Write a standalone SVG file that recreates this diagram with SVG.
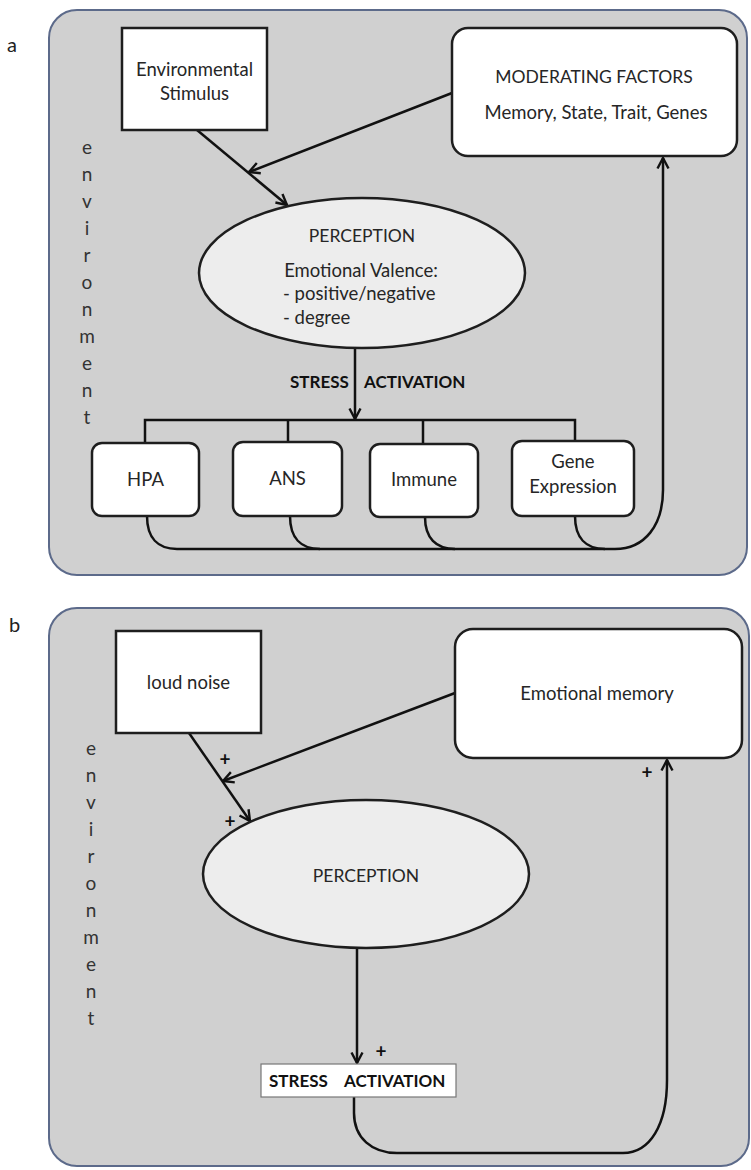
<svg xmlns="http://www.w3.org/2000/svg" width="751" height="1170" viewBox="0 0 751 1170">
<style>
  text { font-family: Lato, "Liberation Sans", sans-serif; fill: #262626; }
  .t { font-size: 18.5px; text-anchor: middle; }
  .b { font-size: 17px; font-weight: bold; fill: #111; }
  .plus { font-size: 19px; font-weight: bold; fill: #111; text-anchor: middle; }
  .lbl { font-size: 20px; fill: #222; }
  .env { font-size: 19px; fill: #333; text-anchor: middle; }
  .panel { fill: #d0d0d0; stroke: #5c6a8a; stroke-width: 2; }
  .box { fill: #ffffff; stroke: #1e1e1e; stroke-width: 2.5; }
  .ell { fill: #ededed; stroke: #1e1e1e; stroke-width: 2.5; }
  .c { fill: none; stroke: #111; stroke-width: 2.5; }
  .ca { fill: none; stroke: #111; stroke-width: 2.5; marker-end: url(#arr); }
</style>
<defs>
  <marker id="arr" viewBox="0 0 14 14" refX="12.5" refY="7" markerWidth="14" markerHeight="14" markerUnits="userSpaceOnUse" orient="auto">
    <path d="M2,1.5 L12.5,7 L2,12.5" fill="none" stroke="#111" stroke-width="2.4" stroke-linejoin="miter"/>
  </marker>
</defs>

<!-- Panel a -->
<g id="panel-a">
  <rect class="panel" x="49" y="10" width="698" height="565" rx="28"/>
  <text class="lbl" x="7" y="52">a</text>
  <text class="env"><tspan x="87" y="154">e</tspan><tspan x="87" y="181">n</tspan><tspan x="87" y="208">v</tspan><tspan x="87" y="235">i</tspan><tspan x="87" y="262">r</tspan><tspan x="87" y="289">o</tspan><tspan x="87" y="316">n</tspan><tspan x="87" y="343">m</tspan><tspan x="87" y="370">e</tspan><tspan x="87" y="397">n</tspan><tspan x="87" y="424">t</tspan></text>
</g>

<g id="connectors-a">
  <path class="ca" d="M197,130 L287,205"/>
  <path class="ca" d="M452,93 L249,172"/>
  <path class="ca" d="M355,348 L355,419"/>
  <path class="c" d="M145,442 L145,420 L575,420 L575,441"/>
  <path class="c" d="M288,420 L288,442"/>
  <path class="c" d="M423,420 L423,444"/>
  <path class="ca" d="M147,516 C147,538 158,549 177,549 L615,549 C645,549 663,525 663,490 L663,158"/>
  <path class="c" d="M290,516 C290,538 301,549 320,549"/>
  <path class="c" d="M425,517 C425,538 436,549 455,549"/>
  <path class="c" d="M575,516 C575,538 586,549 605,549"/>
</g>

<g id="env-stimulus">
  <rect class="box" x="122" y="28" width="145" height="102"/>
  <text class="t" x="194.5" y="76">Environmental</text>
  <text class="t" x="194.5" y="100">Stimulus</text>
</g>

<g id="moderating-factors">
  <rect class="box" x="452" y="28" width="285" height="128" rx="16"/>
  <text class="t" x="594" y="83" style="font-size:17.5px">MODERATING FACTORS</text>
  <text class="t" x="596" y="119">Memory, State, Trait, Genes</text>
</g>

<g id="perception-a">
  <ellipse class="ell" cx="362" cy="273" rx="163" ry="75"/>
  <text class="t" x="362" y="242" style="font-size:17.5px">PERCEPTION</text>
  <text class="t" x="361" y="277">Emotional Valence:</text>
  <text class="t" x="283" y="300" style="text-anchor:start">- positive/negative</text>
  <text class="t" x="283" y="324" style="text-anchor:start">- degree</text>
</g>

<g id="stress-label-a">
  <text class="b"><tspan x="290" y="388">STRESS</tspan><tspan x="364" y="388">ACTIVATION</tspan></text>
</g>

<g id="hpa">
  <rect class="box" x="92" y="443" width="107" height="73" rx="10"/>
  <text class="t" x="145.5" y="486">HPA</text>
</g>
<g id="ans">
  <rect class="box" x="233" y="442" width="109" height="74" rx="10"/>
  <text class="t" x="287.5" y="485">ANS</text>
</g>
<g id="immune">
  <rect class="box" x="370" y="444" width="108" height="73" rx="10"/>
  <text class="t" x="424" y="486">Immune</text>
</g>
<g id="gene-expression">
  <rect class="box" x="512" y="441" width="122" height="75" rx="10"/>
  <text class="t" x="573" y="468">Gene</text>
  <text class="t" x="573" y="493">Expression</text>
</g>

<!-- Panel b -->
<g id="panel-b">
  <rect class="panel" x="49" y="608" width="700" height="558" rx="28"/>
  <text class="lbl" x="9" y="632">b</text>
  <text class="env"><tspan x="91" y="755">e</tspan><tspan x="91" y="782">n</tspan><tspan x="91" y="809">v</tspan><tspan x="91" y="836">i</tspan><tspan x="91" y="863">r</tspan><tspan x="91" y="890">o</tspan><tspan x="91" y="917">n</tspan><tspan x="91" y="944">m</tspan><tspan x="91" y="971">e</tspan><tspan x="91" y="998">n</tspan><tspan x="91" y="1025">t</tspan></text>
</g>

<g id="connectors-b">
  <path class="ca" d="M189,733 L250,821"/>
  <path class="ca" d="M455,693 L223,781"/>
  <path class="ca" d="M357,948 L357,1063"/>
  <path class="ca" d="M354,1097 L354,1113 C354,1138 372,1153 397,1153 L623,1153 C650,1153 667,1125 667,1080 L667,760"/>
  <text class="plus" x="225" y="766">+</text>
  <text class="plus" x="230" y="828">+</text>
  <text class="plus" x="647" y="779">+</text>
  <text class="plus" x="381" y="1058">+</text>
</g>

<g id="loud-noise">
  <rect class="box" x="116" y="631" width="145" height="102"/>
  <text class="t" x="188.5" y="689">loud noise</text>
</g>

<g id="emotional-memory">
  <rect class="box" x="455" y="629" width="287" height="129" rx="18"/>
  <text class="t" x="597" y="700">Emotional memory</text>
</g>

<g id="perception-b">
  <ellipse class="ell" cx="366" cy="874" rx="163" ry="74"/>
  <text class="t" x="366" y="882" style="font-size:17.5px">PERCEPTION</text>
</g>

<g id="stress-activation-b">
  <rect x="261" y="1064" width="195" height="33" fill="#ffffff" stroke="#777" stroke-width="1.2"/>
  <text class="b"><tspan x="269" y="1087">STRESS</tspan><tspan x="344" y="1087">ACTIVATION</tspan></text>
</g>
</svg>
